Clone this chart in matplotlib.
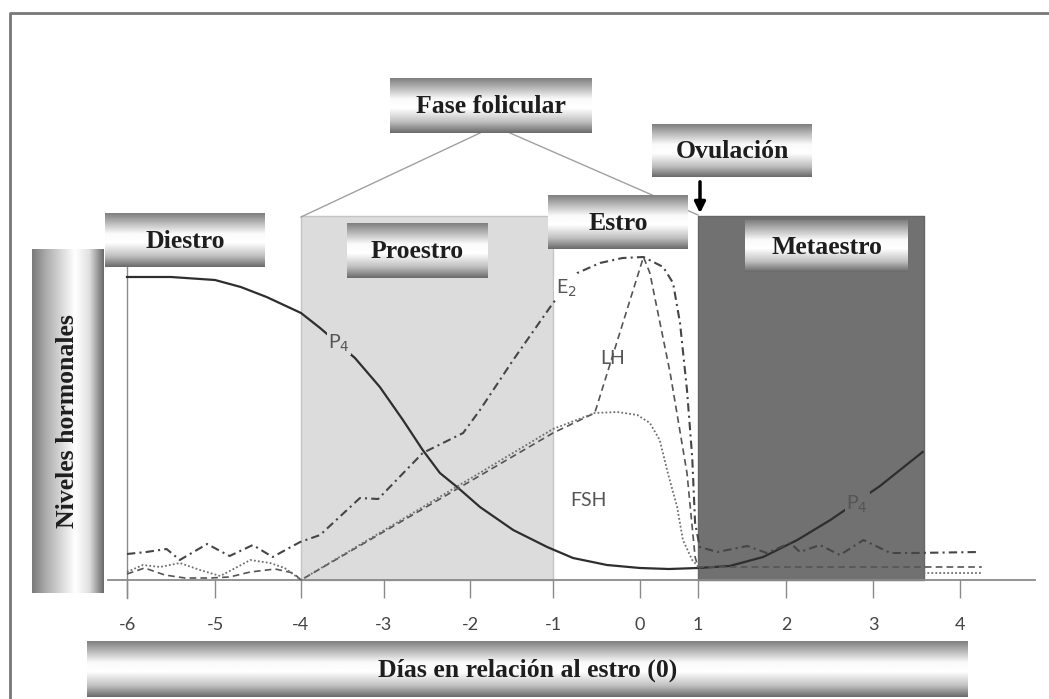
import numpy as np
import matplotlib
matplotlib.use("Agg")
import matplotlib.pyplot as plt

# --- data (days relative to estrus, relative hormone level) ---
tick_days = [-6, -5, -4, -3, -2, -1, 0, 1, 2, 3, 4]
tick_labels = ["-6", "-5", "-4", "-3", "-2", "-1", "0", "1", "2", "3", "4"]
# uneven spacing of the day axis in the original drawing (pixel positions)
tick_pos = [127, 215, 301, 384, 470, 553, 640, 698, 786, 873, 960]

p4_days = [-6, -5.5, -5.0, -4.7, -4.4, -4.0, -3.77, -3.35, -3.05, -2.78, -2.55, -2.35,
           -2.15, -1.88, -1.48, -1.07, -0.77, -0.38, 0, 0.5, 1.0, 1.36, 1.74, 2.13,
           2.51, 3.08, 3.57]
p4_level = [303, 303, 300, 293, 283, 267, 252, 222, 193, 160, 130, 107,
            93, 73, 50, 33, 22, 15, 12, 11, 12, 14, 23, 40,
            60, 94, 128]

e2_days = [-6, -5.78, -5.55, -5.40, -5.09, -4.83, -4.56, -4.33, -4.01, -3.77, -3.29,
           -3.07, -2.55, -2.08, -1.88, -1.48, -1.0, -0.72, -0.46, -0.20, 0.06, 0.40,
           0.57, 0.69, 0.81, 0.90, 0.95, 1.02, 1.22, 1.56, 1.78, 2.05, 2.16, 2.39,
           2.62, 2.89, 3.2, 3.46, 4.23]
e2_level = [26, 28, 31, 20, 36, 24, 35, 23, 38, 45, 82,
            81, 127, 147, 170, 220, 277, 307, 317, 322, 323, 313,
            297, 257, 190, 123, 57, 33, 28, 34, 27, 37, 28, 35,
            25, 40, 27, 27, 28]

lh_days = [-6, -5.80, -5.57, -5.34, -5.06, -4.83, -4.59, -4.30, -4.09, -4.0,
           -1.0, -0.52, 0.06, 0.17, 0.52, 0.81, 0.95, 1.0, 4.25]
lh_level = [6, 12, 5, 2, 2, 3, 8, 11, 7, 0,
            147, 167, 323, 307, 207, 107, 23, 13, 13]

fsh_days = [-6, -5.82, -5.625, -5.40, -5.17, -4.94, -4.74, -4.59, -4.36, -4.19, -4.0,
            -1.0, -0.52, -0.26, -0.03, 0.17, 0.34, 0.48, 0.64, 0.74, 0.90, 0.98,
            1.05, 4.25]
fsh_level = [8, 15, 13, 17, 10, 4, 13, 20, 17, 12, 0,
             151, 167, 168, 165, 157, 140, 107, 73, 40, 20, 15,
             7, 7]

proestro_span = (-4, -1)
metaestro_span = (1, 3.59)

W, H = 1049, 699
fig = plt.figure(figsize=(W / 100, H / 100), dpi=100)
fig.patch.set_facecolor("white")

# main axes, placed in pixel units of the original picture
ax_l, ax_r, ax_top, ax_bot = 108, 1035, 250, 580
ax = fig.add_axes([ax_l / W, (H - ax_bot) / H, (ax_r - ax_l) / W, (ax_bot - ax_top) / H])
ax.patch.set_alpha(0)

ext_days = np.array([-7] + tick_days + [5], dtype=float)
ext_pos = np.array([tick_pos[0] - 88] + tick_pos + [tick_pos[-1] + 87], dtype=float)


def fwd(d):
    return np.interp(d, ext_days, ext_pos)


def inv(p):
    return np.interp(p, ext_pos, ext_days)


ax.set_xscale("function", functions=(fwd, inv))
ax.set_xlim(inv(ax_l), inv(ax_r))
ax.set_ylim(0, ax_bot - ax_top)

region_top = 364
ax.fill_between(proestro_span, 0, region_top, color="#dcdcdc", ec="#c4c4c4", lw=1,
                clip_on=False, zorder=1)
ax.fill_between(metaestro_span, 0, region_top, color="#717171", ec="#666666", lw=1,
                clip_on=False, zorder=1)

# vertical reference line at day -6
ax.plot([tick_days[0]] * 2, [-18, 315], color="#8a8a8a", lw=1, clip_on=False, zorder=2)

ax.plot(p4_days, p4_level, color="#2e2e2e", lw=1.6, zorder=4, clip_on=False)
ax.plot(e2_days, e2_level, color="#454545", lw=1.5, ls=(0, (4, 2, 1, 2)), zorder=4,
        clip_on=False)
ax.plot(lh_days, lh_level, color="#555555", lw=1.2, ls=(0, (4, 2.5)), zorder=4,
        clip_on=False)
ax.plot(fsh_days, fsh_level, color="#707070", lw=1.3, ls=(0, (1, 1.2)), zorder=4,
        clip_on=False)

lab = dict(fontsize=14, color="#555555", ha="center", va="center", family="Lato", zorder=5)
ax.text(-3.54, 237, r"P$_4$", bbox=dict(fc="#dcdcdc", ec="none", pad=1), **lab)
ax.text(2.82, 76, r"P$_4$", bbox=dict(fc="#717171", ec="none", pad=1), **lab)
ax.text(-0.85, 292, r"E$_2$", bbox=dict(fc="white", ec="none", pad=1), **lab)
ax.text(-0.32, 222, "LH", **lab)
ax.text(-0.59, 80, "FSH", **lab)

for s in ["top", "right", "left"]:
    ax.spines[s].set_visible(False)
ax.spines["bottom"].set_color("#8a8a8a")
ax.spines["bottom"].set_linewidth(1.3)
ax.set_yticks([])
ax.set_xticks(tick_days)
ax.set_xticklabels(tick_labels, family="Lato", fontsize=13, color="#444444")
ax.tick_params(axis="x", length=13, width=1, color="#8a8a8a", pad=14)

# decoration layer in pixel coordinates
deco = fig.add_axes([0, 0, 1, 1], zorder=3)
deco.patch.set_alpha(0)
deco.axis("off")


def grad_box(x0, y0, x1, y1, vertical=False):
    t = np.linspace(0, 1, 80)
    if vertical:
        v = np.interp(t, [0, 0.2, 0.6, 0.8, 1], [0.48, 0.68, 1.0, 0.88, 0.42])
        img = v[None, :]
    else:
        v = np.interp(t, [0, 0.12, 0.38, 0.55, 0.8, 1], [0.5, 0.65, 0.98, 1.0, 0.75, 0.42])
        img = v[:, None]
    deco.imshow(img, cmap="gray", vmin=0, vmax=1, extent=(x0, x1, y1, y0),
                aspect="auto", interpolation="bilinear", zorder=2)


box_font = dict(family="Liberation Serif", fontweight="bold", fontsize=18.5, color="#1e1e1e",
                ha="center", va="center", zorder=3)

# lines from "Fase folicular" to the follicular span
deco.plot([480, 301], [133, 217], color="#a0a0a0", lw=1, zorder=1)
deco.plot([510, 698], [133, 215], color="#a0a0a0", lw=1, zorder=1)

boxes = [
    ("Fase folicular", 390, 78, 592, 133),
    ("Ovulación", 652, 124, 812, 177),
    ("Estro", 548, 195, 688, 249),
    ("Proestro", 347, 223, 488, 278),
    ("Diestro", 105, 213, 265, 267),
    ("Metaestro", 745, 220, 908, 272),
    ("Días en relación al estro (0)", 87, 641, 968, 697),
]
for label, x0, y0, x1, y1 in boxes:
    grad_box(x0, y0, x1, y1)
    deco.text((x0 + x1) / 2, (y0 + y1) / 2 + 1, label, **box_font)

grad_box(32, 249, 104, 593, vertical=True)
deco.text(68, 421, "Niveles hormonales", rotation=90, **box_font)

deco.annotate("", xy=(700, 216), xytext=(700, 179),
              arrowprops=dict(arrowstyle="-|>", lw=2.5, color="black", mutation_scale=16),
              zorder=4)

# outer frame
deco.plot([10, 10, W], [H, 13, 13], color="#777777", lw=2, zorder=1)

deco.set_xlim(0, W)
deco.set_ylim(H, 0)

fig.savefig("out.png", dpi=100)
